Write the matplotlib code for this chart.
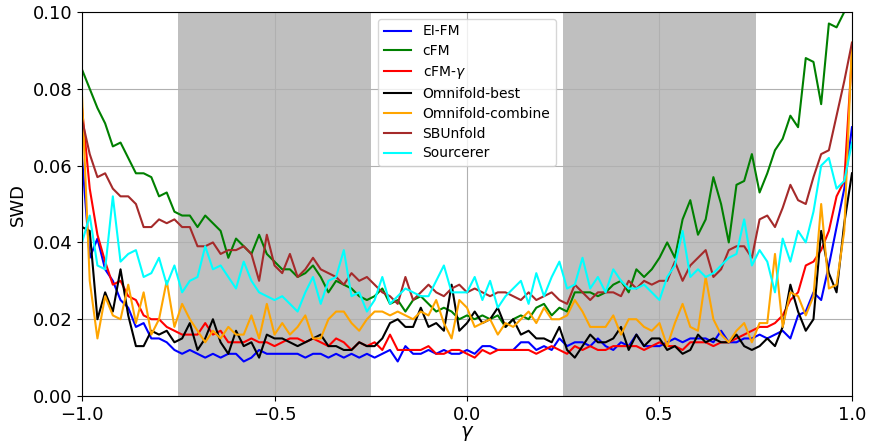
import numpy as np
import matplotlib
matplotlib.use("Agg")
import matplotlib.pyplot as plt

# gamma grid
gamma = np.linspace(-1.0, 1.0, 101)

# SWD values (step 0.02 in gamma)
ei_fm = [0.062, 0.036, 0.041, 0.033, 0.030, 0.025, 0.023, 0.018, 0.019, 0.015,
         0.015, 0.014, 0.012, 0.011, 0.012, 0.011, 0.010, 0.011, 0.010, 0.011,
         0.011, 0.009, 0.010, 0.012, 0.011, 0.011, 0.011, 0.011, 0.011, 0.010,
         0.011, 0.011, 0.010, 0.011, 0.010, 0.011, 0.010, 0.011, 0.010, 0.011,
         0.012, 0.009, 0.013, 0.011, 0.011, 0.012, 0.011, 0.012, 0.011, 0.011,
         0.012, 0.011, 0.013, 0.013, 0.012, 0.012, 0.012, 0.014, 0.014, 0.012,
         0.013, 0.012, 0.015, 0.013, 0.014, 0.014, 0.013, 0.015, 0.013, 0.012,
         0.014, 0.013, 0.016, 0.013, 0.013, 0.013, 0.014, 0.015, 0.014, 0.015,
         0.015, 0.015, 0.014, 0.017, 0.014, 0.014, 0.015, 0.015, 0.016, 0.015,
         0.016, 0.017, 0.015, 0.021, 0.022, 0.027, 0.025, 0.034, 0.044, 0.054,
         0.070]

cfm = [0.085, 0.080, 0.075, 0.071, 0.065, 0.066, 0.062, 0.058, 0.058, 0.057,
       0.052, 0.053, 0.048, 0.047, 0.047, 0.044, 0.047, 0.045, 0.043, 0.036,
       0.041, 0.039, 0.037, 0.042, 0.037, 0.035, 0.033, 0.033, 0.031, 0.032,
       0.034, 0.031, 0.027, 0.030, 0.029, 0.028, 0.026, 0.025, 0.026, 0.028,
       0.024, 0.025, 0.022, 0.025, 0.026, 0.024, 0.022, 0.023, 0.022, 0.020,
       0.021, 0.020, 0.021, 0.020, 0.021, 0.018, 0.020, 0.021, 0.020, 0.023,
       0.024, 0.021, 0.023, 0.022, 0.027, 0.027, 0.027, 0.026, 0.027, 0.029,
       0.030, 0.027, 0.033, 0.031, 0.033, 0.036, 0.040, 0.036, 0.046, 0.051,
       0.042, 0.046, 0.057, 0.050, 0.040, 0.055, 0.056, 0.063, 0.053, 0.058,
       0.064, 0.067, 0.073, 0.070, 0.088, 0.087, 0.076, 0.097, 0.096, 0.100,
       0.115]

cfm_gamma = [0.075, 0.054, 0.042, 0.035, 0.029, 0.030, 0.026, 0.025, 0.021, 0.020,
             0.020, 0.018, 0.017, 0.016, 0.016, 0.016, 0.019, 0.016, 0.017, 0.014,
             0.014, 0.014, 0.015, 0.014, 0.014, 0.013, 0.014, 0.015, 0.015, 0.014,
             0.015, 0.014, 0.013, 0.015, 0.014, 0.012, 0.014, 0.013, 0.014, 0.012,
             0.016, 0.012, 0.012, 0.012, 0.012, 0.013, 0.011, 0.011, 0.012, 0.012,
             0.011, 0.010, 0.012, 0.011, 0.012, 0.012, 0.012, 0.012, 0.012, 0.011,
             0.012, 0.013, 0.012, 0.011, 0.013, 0.012, 0.013, 0.012, 0.012, 0.013,
             0.013, 0.013, 0.013, 0.012, 0.013, 0.014, 0.013, 0.013, 0.012, 0.014,
             0.014, 0.014, 0.013, 0.014, 0.014, 0.015, 0.016, 0.017, 0.018, 0.018,
             0.019, 0.021, 0.025, 0.027, 0.034, 0.035, 0.038, 0.043, 0.052, 0.056,
             0.089]

omni_best = [0.044, 0.043, 0.020, 0.027, 0.022, 0.033, 0.021, 0.013, 0.013, 0.017,
             0.016, 0.017, 0.014, 0.015, 0.019, 0.012, 0.015, 0.020, 0.014, 0.011,
             0.017, 0.013, 0.014, 0.010, 0.016, 0.015, 0.015, 0.014, 0.013, 0.014,
             0.015, 0.016, 0.013, 0.013, 0.012, 0.012, 0.014, 0.013, 0.013, 0.015,
             0.019, 0.020, 0.018, 0.018, 0.023, 0.018, 0.019, 0.017, 0.029, 0.017,
             0.019, 0.022, 0.019, 0.020, 0.023, 0.018, 0.020, 0.016, 0.017, 0.015,
             0.015, 0.014, 0.018, 0.012, 0.010, 0.013, 0.016, 0.014, 0.014, 0.015,
             0.018, 0.012, 0.016, 0.013, 0.015, 0.015, 0.012, 0.013, 0.011, 0.012,
             0.016, 0.014, 0.015, 0.014, 0.014, 0.016, 0.013, 0.012, 0.013, 0.015,
             0.013, 0.018, 0.029, 0.022, 0.017, 0.020, 0.043, 0.032, 0.027, 0.045,
             0.058]

omni_combine = [0.078, 0.030, 0.015, 0.026, 0.021, 0.020, 0.029, 0.019, 0.027, 0.016,
                0.020, 0.030, 0.018, 0.024, 0.020, 0.017, 0.014, 0.017, 0.015, 0.018,
                0.016, 0.016, 0.021, 0.015, 0.024, 0.016, 0.019, 0.016, 0.018, 0.021,
                0.015, 0.015, 0.020, 0.022, 0.022, 0.019, 0.017, 0.020, 0.022, 0.022,
                0.021, 0.022, 0.021, 0.020, 0.022, 0.021, 0.025, 0.019, 0.015, 0.025,
                0.023, 0.018, 0.019, 0.020, 0.016, 0.019, 0.018, 0.020, 0.022, 0.019,
                0.023, 0.020, 0.020, 0.021, 0.025, 0.022, 0.018, 0.018, 0.018, 0.021,
                0.016, 0.020, 0.020, 0.018, 0.017, 0.019, 0.013, 0.019, 0.024, 0.018,
                0.017, 0.031, 0.020, 0.016, 0.014, 0.017, 0.019, 0.014, 0.019, 0.019,
                0.037, 0.018, 0.027, 0.026, 0.021, 0.026, 0.050, 0.028, 0.029, 0.043,
                0.092]

sbunfold = [0.072, 0.063, 0.057, 0.058, 0.054, 0.052, 0.052, 0.050, 0.044, 0.044,
            0.046, 0.045, 0.046, 0.044, 0.044, 0.039, 0.039, 0.040, 0.037, 0.038,
            0.038, 0.039, 0.037, 0.030, 0.042, 0.034, 0.032, 0.037, 0.031, 0.033,
            0.036, 0.033, 0.032, 0.031, 0.029, 0.032, 0.030, 0.031, 0.029, 0.027,
            0.026, 0.024, 0.031, 0.025, 0.027, 0.029, 0.027, 0.026, 0.028, 0.029,
            0.027, 0.028, 0.027, 0.026, 0.027, 0.027, 0.026, 0.025, 0.027, 0.025,
            0.026, 0.027, 0.025, 0.024, 0.029, 0.027, 0.025, 0.027, 0.027, 0.027,
            0.026, 0.030, 0.028, 0.030, 0.029, 0.030, 0.030, 0.035, 0.030, 0.034,
            0.036, 0.038, 0.031, 0.033, 0.038, 0.039, 0.039, 0.036, 0.046, 0.047,
            0.044, 0.049, 0.055, 0.051, 0.050, 0.057, 0.063, 0.064, 0.073, 0.082,
            0.092]

sourcerer = [0.040, 0.047, 0.034, 0.033, 0.052, 0.035, 0.037, 0.038, 0.031, 0.032,
             0.036, 0.029, 0.034, 0.027, 0.030, 0.031, 0.039, 0.033, 0.034, 0.031,
             0.028, 0.035, 0.030, 0.027, 0.026, 0.025, 0.026, 0.024, 0.022, 0.027,
             0.031, 0.024, 0.030, 0.031, 0.038, 0.026, 0.027, 0.022, 0.025, 0.031,
             0.024, 0.026, 0.028, 0.027, 0.026, 0.026, 0.030, 0.034, 0.027, 0.027,
             0.027, 0.031, 0.025, 0.030, 0.023, 0.026, 0.028, 0.030, 0.024, 0.032,
             0.026, 0.031, 0.035, 0.028, 0.029, 0.036, 0.028, 0.031, 0.027, 0.033,
             0.030, 0.028, 0.028, 0.029, 0.027, 0.025, 0.031, 0.034, 0.043, 0.031,
             0.033, 0.031, 0.032, 0.034, 0.036, 0.037, 0.046, 0.034, 0.038, 0.035,
             0.027, 0.041, 0.035, 0.043, 0.040, 0.048, 0.060, 0.062, 0.054, 0.056,
             0.066]

labels = ["EI-FM", "cFM", r"cFM-$\gamma$", "Omnifold-best",
          "Omnifold-combine", "SBUnfold", "Sourcerer"]
colors = ["blue", "green", "red", "black", "orange", "brown", "cyan"]
series = [ei_fm, cfm, cfm_gamma, omni_best, omni_combine, sbunfold, sourcerer]

fig = plt.figure(figsize=(8.69, 4.44), dpi=100)
ax = fig.add_axes([0.0944, 0.108, 0.886, 0.865])

# shaded gamma bands
ax.axvspan(-0.75, -0.25, color="gray", alpha=0.5, lw=0)
ax.axvspan(0.25, 0.75, color="gray", alpha=0.5, lw=0)

for y, lab, c in zip(series, labels, colors):
    ax.plot(gamma, y, color=c, lw=1.5, label=lab)

ax.set_xlim(-1, 1)
ax.set_ylim(0, 0.1)
ax.set_xticks([-1.0, -0.5, 0.0, 0.5, 1.0])
ax.set_yticks([0.0, 0.02, 0.04, 0.06, 0.08, 0.10])
ax.yaxis.set_major_formatter(matplotlib.ticker.FormatStrFormatter("%.2f"))
ax.tick_params(labelsize=13)
ax.grid(True)
ax.set_xlabel(r"$\gamma$", fontsize=14, labelpad=0)
ax.set_ylabel("SWD", fontsize=13)
ax.legend(loc="upper center", fontsize=10, labelspacing=0.42)

fig.savefig("out.png", dpi=100)
